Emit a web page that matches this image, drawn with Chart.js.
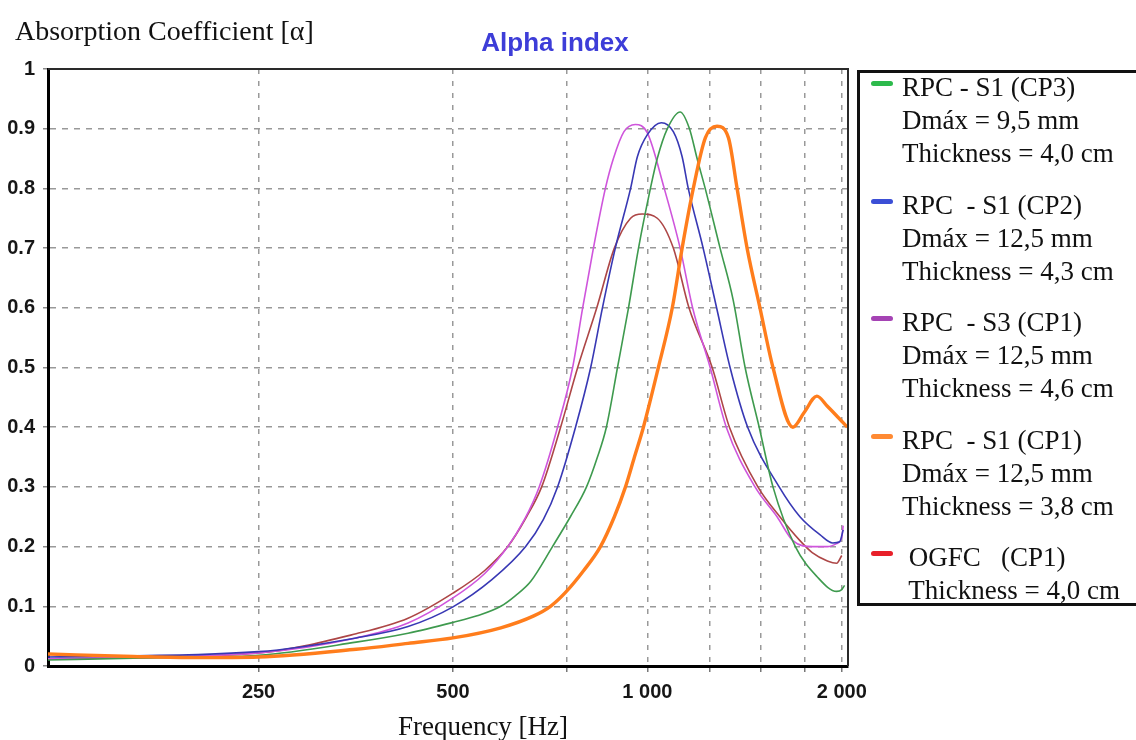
<!DOCTYPE html>
<html>
<head>
<meta charset="utf-8">
<title>Alpha index</title>
<script src="https://cdn.jsdelivr.net/npm/chart.js@4.4.0/dist/chart.umd.min.js"></script>
<style>
  body { margin: 0; background: #fff; }
  #wrap { position: relative; width: 1136px; height: 740px; overflow: hidden; }
  #legend {
    position: absolute; left: 857px; top: 70px; width: 300px; height: 530px;
    border: 3px solid #111; font: 27px "Liberation Serif", "Times New Roman", serif; color: #111;
  }
  .group { position: absolute; left: 0; width: 100%; }
  .swatch { position: absolute; left: 11px; top: 10px; width: 22px; height: 5px; border-radius: 3px; }
  .line { margin-left: 42px; white-space: pre; line-height: 33px; }
</style>
</head>
<body>
<div id="wrap">
  <canvas id="alphaChart" width="1136" height="740"></canvas>
  <div id="legend"></div>
</div>
<script>
// frequency [Hz] / absorption coefficient
const greenFreq = [118, 160, 250, 354, 426, 500, 545, 593, 625, 660, 713, 760, 805, 837, 864, 899, 935, 969, 1011, 1036, 1074, 1124, 1162, 1194, 1229, 1296, 1358, 1417, 1490, 1565, 1695, 1830, 1964, 2000, 2020];
const greenAlpha = [0.010, 0.013, 0.018, 0.040, 0.055, 0.073, 0.084, 0.100, 0.118, 0.142, 0.200, 0.250, 0.300, 0.350, 0.400, 0.500, 0.600, 0.700, 0.800, 0.850, 0.900, 0.928, 0.900, 0.850, 0.800, 0.700, 0.613, 0.500, 0.400, 0.300, 0.200, 0.150, 0.125, 0.128, 0.135];

const blueFreq = [118, 250, 354, 426, 500, 575, 648, 690, 726, 774, 817, 852, 892, 942, 965, 1000, 1051, 1097, 1132, 1157, 1220, 1280, 1343, 1430, 1600, 1723, 1850, 1937, 1985, 2010];
const blueAlpha = [0.015, 0.024, 0.047, 0.066, 0.099, 0.145, 0.200, 0.245, 0.300, 0.400, 0.500, 0.600, 0.700, 0.800, 0.853, 0.890, 0.910, 0.895, 0.853, 0.800, 0.700, 0.600, 0.500, 0.400, 0.300, 0.250, 0.220, 0.206, 0.208, 0.228];

const magentaFreq = [118, 250, 354, 426, 500, 560, 608, 645, 680, 726, 766, 794, 825, 861, 886, 920, 958, 1000, 1062, 1124, 1175, 1251, 1325, 1468, 1588, 1680, 1804, 1900, 1964, 2000, 2010];
const magentaAlpha = [0.012, 0.022, 0.047, 0.072, 0.114, 0.155, 0.200, 0.245, 0.300, 0.400, 0.500, 0.600, 0.700, 0.800, 0.850, 0.895, 0.907, 0.893, 0.800, 0.700, 0.600, 0.500, 0.400, 0.300, 0.250, 0.210, 0.200, 0.200, 0.205, 0.215, 0.235];

const orangeFreq = [118, 160, 200, 250, 354, 426, 500, 593, 667, 708, 745, 797, 846, 889, 925, 955, 986, 1040, 1093, 1132, 1178, 1230, 1282, 1335, 1377, 1427, 1494, 1565, 1680, 1750, 1830, 1900, 1960, 2040];
const orangeAlpha = [0.020, 0.016, 0.014, 0.015, 0.028, 0.038, 0.047, 0.064, 0.084, 0.100, 0.122, 0.160, 0.200, 0.250, 0.300, 0.350, 0.400, 0.500, 0.600, 0.700, 0.800, 0.885, 0.904, 0.885, 0.800, 0.700, 0.600, 0.500, 0.400, 0.425, 0.452, 0.435, 0.420, 0.400];

const redFreq = [118, 250, 354, 426, 500, 560, 608, 650, 686, 734, 780, 835, 889, 942, 982, 1036, 1097, 1160, 1260, 1340, 1483, 1604, 1723, 1800, 1900, 1964, 2000];
const redAlpha = [0.012, 0.022, 0.054, 0.080, 0.122, 0.160, 0.200, 0.250, 0.300, 0.400, 0.500, 0.600, 0.700, 0.750, 0.757, 0.750, 0.700, 0.600, 0.500, 0.400, 0.300, 0.250, 0.210, 0.190, 0.176, 0.172, 0.185];

const seriesLabels = [
    ['RPC - S1 (CP3)', 'Dmáx = 9,5 mm', 'Thickness = 4,0 cm'],
    ['RPC  - S1 (CP2)', 'Dmáx = 12,5 mm', 'Thickness = 4,3 cm'],
    ['RPC  - S3 (CP1)', 'Dmáx = 12,5 mm', 'Thickness = 4,6 cm'],
    ['RPC  - S1 (CP1)', 'Dmáx = 12,5 mm', 'Thickness = 3,8 cm'],
    [' OGFC   (CP1)', ' Thickness = 4,0 cm']
];

const xTickValues = [250, 500, 750, 1000, 1250, 1500, 1750, 2000];
const xTickLabels = ['250', '500', '', '1 000', '', '', '', '2 000'];

const toPoints = (freq, alpha) => freq.map((f, i) => ({ x: f, y: alpha[i] }));

function makeSeries(label, freq, alpha, color, swatch, width, order) {
    return {
        label: label,
        data: toPoints(freq, alpha),
        borderColor: color,
        legendColor: swatch,
        borderWidth: width,
        pointRadius: 0,
        fill: false,
        cubicInterpolationMode: 'monotone',
        order: order
    };
}

const datasets = [
    makeSeries(seriesLabels[0], greenFreq, greenAlpha, '#3e9a4e', '#2dba4c', 1.6, 1),
    makeSeries(seriesLabels[1], blueFreq, blueAlpha, '#3838b4', '#3b4fd6', 1.6, 1),
    makeSeries(seriesLabels[2], magentaFreq, magentaAlpha, '#cf55dc', '#a543b4', 1.6, 1),
    makeSeries(seriesLabels[3], orangeFreq, orangeAlpha, '#ff7d1c', '#ff8a33', 3.4, 0),
    makeSeries(seriesLabels[4], redFreq, redAlpha, '#ad4646', '#e8202a', 1.6, 1)
];

const framePlugin = {
    id: 'frame',
    afterDatasetsDraw(chart) {
        const { ctx, chartArea: a } = chart;
        ctx.save();
        ctx.strokeStyle = '#2a2a2a';
        ctx.lineWidth = 2;
        ctx.beginPath();
        ctx.moveTo(a.left, a.top);
        ctx.lineTo(a.right, a.top);
        ctx.lineTo(a.right, a.bottom);
        ctx.stroke();
        ctx.restore();
    },
    afterDraw(chart) {
        const ctx = chart.ctx;
        ctx.save();
        ctx.fillStyle = '#111';
        ctx.textBaseline = 'alphabetic';
        ctx.font = '28px "Liberation Serif", "Times New Roman", serif';
        ctx.textAlign = 'left';
        ctx.fillText('Absorption Coefficient [α]', 15, 40);
        ctx.font = '27px "Liberation Serif", "Times New Roman", serif';
        ctx.textAlign = 'center';
        ctx.fillText('Frequency [Hz]', 483, 735);
        ctx.fillStyle = '#3d3dd8';
        ctx.font = 'bold 26px "Liberation Sans", Arial, sans-serif';
        ctx.fillText('Alpha index', 555, 51);
        ctx.restore();
    }
};

const tickFont = { family: '"Liberation Sans", Arial, sans-serif', size: 20, weight: 'bold' };

const chart = new Chart(document.getElementById('alphaChart'), {
    type: 'line',
    data: { datasets: datasets },
    options: {
        responsive: false,
        animation: false,
        layout: { padding: { top: 69, right: 288, bottom: 0, left: 0 } },
        plugins: { legend: { display: false }, title: { display: false }, tooltip: { enabled: false } },
        scales: {
            x: {
                type: 'logarithmic',
                min: 118,
                max: 2045,
                afterBuildTicks: scale => { scale.ticks = xTickValues.map(v => ({ value: v })); },
                afterFit: scale => { scale.height = 74; },
                ticks: {
                    autoSkip: false,
                    maxRotation: 0,
                    padding: 8,
                    color: '#161616',
                    font: tickFont,
                    callback: (v, i) => xTickLabels[i]
                },
                grid: { color: '#999', lineWidth: 1.5, tickLength: 6, tickColor: '#777' },
                border: { color: '#000', width: 3, dash: [5, 7] }
            },
            y: {
                min: 0,
                max: 1,
                afterFit: scale => { scale.width = 48; },
                ticks: {
                    stepSize: 0.1,
                    padding: 8,
                    color: '#161616',
                    font: tickFont,
                    callback: v => String(Math.round(v * 10) / 10)
                },
                grid: { color: '#999', lineWidth: 1.5, tickLength: 5, tickColor: '#888' },
                border: { color: '#000', width: 3, dash: [6, 6] }
            }
        }
    },
    plugins: [framePlugin]
});

function buildLegend(chart) {
    const legend = document.getElementById('legend');
    legend.innerHTML = '';
    chart.data.datasets.forEach((ds, i) => {
        const group = document.createElement('div');
        group.className = 'group';
        group.style.top = (-2 + i * 117.5) + 'px';
        const swatch = document.createElement('div');
        swatch.className = 'swatch';
        swatch.style.background = ds.legendColor;
        group.appendChild(swatch);
        ds.label.forEach(text => {
            const line = document.createElement('div');
            line.className = 'line';
            line.textContent = text;
            group.appendChild(line);
        });
        legend.appendChild(group);
    });
}

buildLegend(chart);
</script>
</body>
</html>
